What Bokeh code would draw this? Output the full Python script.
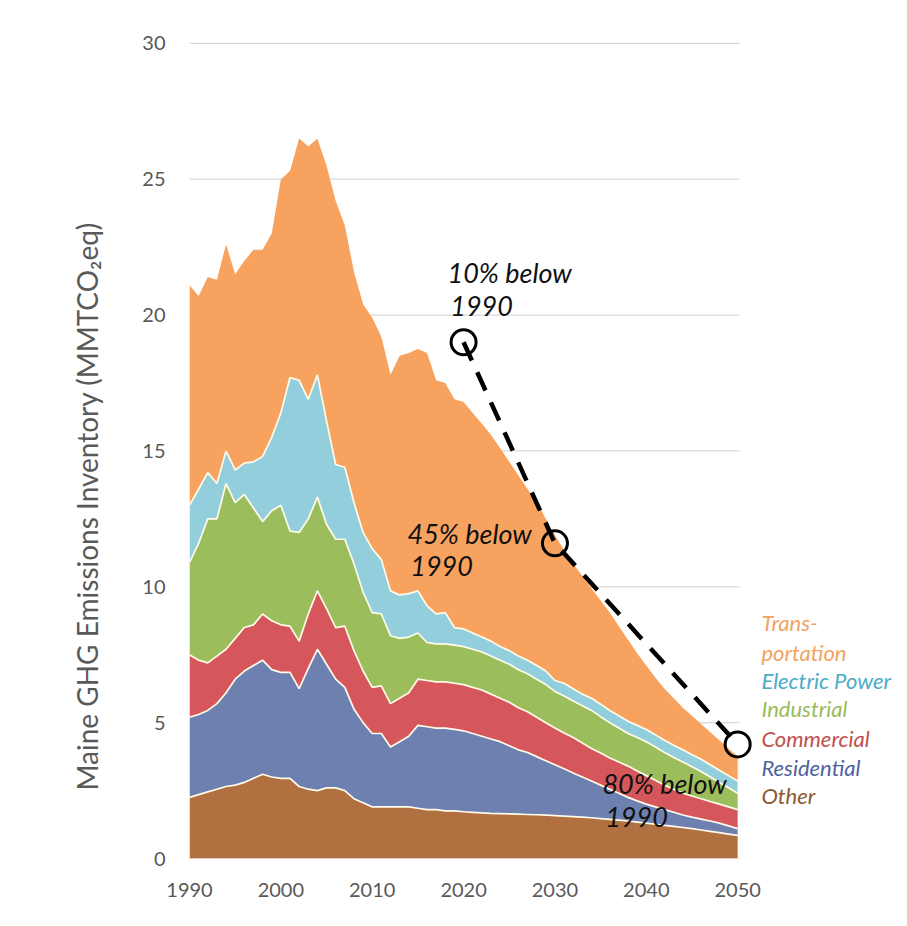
import numpy as np
from bokeh.plotting import figure
from bokeh.models import ColumnDataSource, Label, FixedTicker, Range1d, Title
from bokeh.embed import file_html
from bokeh.resources import INLINE

years = list(range(1990, 2051))

other = [2.25, 2.35, 2.45, 2.55, 2.65, 2.7, 2.8, 2.95, 3.1, 3.0,
         2.95, 2.95, 2.65, 2.55, 2.5, 2.6, 2.6, 2.5, 2.2, 2.05,
         1.9, 1.9, 1.9, 1.9, 1.9, 1.85, 1.8, 1.8, 1.75, 1.75,
         1.72, 1.7, 1.68, 1.66, 1.65, 1.64, 1.63, 1.62, 1.61, 1.6,
         1.58, 1.56, 1.54, 1.52, 1.5, 1.47, 1.44, 1.41, 1.38, 1.34,
         1.3, 1.26, 1.22, 1.18, 1.14, 1.1, 1.05, 1.0, 0.95, 0.9,
         0.85]
residential = [2.95, 2.95, 3.0, 3.15, 3.45, 3.9, 4.1, 4.15, 4.2, 3.95,
               3.9, 3.9, 3.6, 4.45, 5.2, 4.55, 4.0, 3.8, 3.3, 2.95,
               2.7, 2.7, 2.2, 2.4, 2.6, 3.05, 3.05, 3.0, 3.05, 3.0,
               2.98, 2.9, 2.82, 2.74, 2.65, 2.51, 2.37, 2.28, 2.14, 2.0,
               1.87, 1.74, 1.61, 1.48, 1.35, 1.23, 1.11, 0.99, 0.87, 0.78,
               0.7, 0.64, 0.58, 0.52, 0.46, 0.42, 0.4, 0.38, 0.35, 0.3,
               0.25]
commercial = [2.3, 2.0, 1.75, 1.75, 1.6, 1.5, 1.6, 1.5, 1.7, 1.8,
              1.75, 1.7, 1.75, 2.0, 2.15, 2.05, 1.9, 2.25, 2.15, 1.9,
              1.7, 1.75, 1.6, 1.6, 1.6, 1.7, 1.7, 1.7, 1.7, 1.7,
              1.7, 1.7, 1.7, 1.65, 1.6, 1.6, 1.55, 1.5, 1.45, 1.4,
              1.35, 1.32, 1.3, 1.25, 1.2, 1.18, 1.15, 1.15, 1.15, 1.1,
              1.05, 0.98, 0.9, 0.85, 0.8, 0.78, 0.75, 0.72, 0.7, 0.7,
              0.7]
industrial = [3.4, 4.3, 5.3, 5.05, 6.1, 5.0, 4.9, 4.3, 3.4, 4.05,
              4.4, 3.5, 4.0, 3.5, 3.45, 3.1, 3.25, 3.2, 3.2, 2.9,
              2.75, 2.65, 2.5, 2.2, 2.05, 1.7, 1.4, 1.4, 1.4, 1.4,
              1.4, 1.4, 1.4, 1.4, 1.4, 1.4, 1.4, 1.4, 1.4, 1.4,
              1.35, 1.36, 1.35, 1.37, 1.4, 1.34, 1.3, 1.25, 1.2, 1.23,
              1.25, 1.22, 1.2, 1.17, 1.15, 1.08, 1.0, 0.9, 0.8, 0.7,
              0.6]
electric_power = [2.1, 2.0, 1.7, 1.3, 1.2, 1.2, 1.15, 1.7, 2.4, 2.7,
                  3.4, 5.65, 5.6, 4.4, 4.5, 3.8, 2.75, 2.65, 2.25, 2.2,
                  2.35, 2.0, 1.65, 1.6, 1.6, 1.55, 1.35, 1.1, 1.15, 0.65,
                  0.65, 0.6, 0.55, 0.55, 0.5, 0.5, 0.5, 0.5, 0.5, 0.5,
                  0.4, 0.47, 0.45, 0.43, 0.45, 0.46, 0.45, 0.45, 0.45, 0.45,
                  0.45, 0.45, 0.45, 0.45, 0.45, 0.44, 0.45, 0.45, 0.45, 0.45,
                  0.45]
transportation = [8.1, 7.1, 7.2, 7.5, 7.6, 7.2, 7.45, 7.8, 7.6, 7.5,
                  8.6, 7.6, 8.9, 9.3, 8.7, 9.4, 9.7, 8.9, 8.5, 8.4,
                  8.5, 8.2, 7.95, 8.8, 8.85, 8.9, 9.3, 8.6, 8.45, 8.4,
                  8.35, 8.1, 7.85, 7.6, 7.3, 6.95, 6.65, 6.3, 6.0, 5.6,
                  5.35, 4.9, 4.6, 4.35, 4.05, 3.82, 3.6, 3.3, 3.0, 2.65,
                  2.35, 2.1, 1.9, 1.73, 1.55, 1.43, 1.3, 1.2, 1.1, 1.0,
                  0.9]

sector_keys = ["other", "residential", "commercial", "industrial", "electric_power", "transportation"]
sector_colors = ["#B07040", "#6E80B0", "#D5575B", "#9CBD5C", "#93CEDD", "#F7A35F"]

legend_lines = ["Trans-", "portation", "Electric Power", "Industrial", "Commercial", "Residential", "Other"]
legend_colors = ["#F3A361", "#F3A361", "#4BACC6", "#9BBB59", "#C0504D", "#4F62A0", "#8A5A32"]

target_years = [2020, 2030, 2050]
target_values = [19.0, 11.6, 4.2]
target_text = [["10% below", "1990"], ["45% below", "1990"], ["80% below", "1990"]]

y_ticks = [0, 5, 10, 15, 20, 25, 30]
x_ticks = [1990, 2000, 2010, 2020, 2030, 2040, 2050]
y_title = "Maine GHG Emissions Inventory (MMTCO\u2082eq)"

FONT = "Lato"
GRAY = "#595959"

src = ColumnDataSource(dict(year=years, other=other, residential=residential,
                            commercial=commercial, industrial=industrial,
                            electric_power=electric_power, transportation=transportation))

X_END = 1990 + 704 / 9.136
p = figure(x_range=Range1d(1990, X_END), y_range=Range1d(0, 30.4),
           frame_width=704, frame_height=826,
           min_border_left=189, min_border_right=4, min_border_top=32, min_border_bottom=50,
           output_backend="svg", toolbar_location=None)
p.outline_line_color = None
p.background_fill_color = "white"
p.border_fill_color = "white"

p.xgrid.grid_line_color = None
p.ygrid.grid_line_color = None

# horizontal gridlines over the data span only
p.segment(x0=[1990] * len(y_ticks), x1=[2050.2] * len(y_ticks), y0=y_ticks, y1=y_ticks,
          line_color="#D9D9D9", line_width=1.2)

p.varea_stack(stackers=sector_keys, x="year", color=sector_colors, source=src)

cum = np.cumsum(np.array([other, residential, commercial, industrial, electric_power]), axis=0)
for row in cum:
    p.line(years, row, line_color="#FFFBEA", line_width=1.7)

p.line(target_years, target_values, line_color="black", line_width=4.5, line_dash="20 13")
p.scatter(target_years, target_values, marker="circle", size=25, fill_color=None,
          line_color="black", line_width=3)

for ax in (p.xaxis, p.yaxis):
    ax.axis_line_color = None
    ax.major_tick_line_color = None
    ax.minor_tick_line_color = None
    ax.major_label_text_font = FONT
    ax.major_label_text_font_size = "20px"
    ax.major_label_text_color = GRAY
p.xaxis.ticker = FixedTicker(ticks=x_ticks)
p.yaxis.ticker = FixedTicker(ticks=y_ticks)
p.xaxis.major_label_standoff = 18
p.yaxis.major_label_standoff = 18

# annotation texts (positions in data units)
ann_pos = [(2018.24, 21.57, 20.35), (2013.86, 11.96, 10.78), (2035.2, 2.76, 1.51)]
for (xa, y1, y2), (t1, t2) in zip(ann_pos, target_text):
    p.add_layout(Label(x=xa, y=y1, text=t1, text_font=FONT, text_font_style="italic",
                       text_font_size="27px", text_color="#111111", text_baseline="alphabetic"))
    p.add_layout(Label(x=xa + 0.3, y=y2, text=t2, text_font=FONT, text_font_style="italic",
                       text_font_size="27px", text_color="#111111", text_baseline="alphabetic"))

legend_y = [8.69, 7.58, 6.55, 5.52, 4.42, 3.35, 2.32]
for t, c, yy in zip(legend_lines, legend_colors, legend_y):
    p.add_layout(Label(x=2052.6, y=yy, text=t, text_font=FONT, text_font_style="italic",
                       text_font_size="22px", text_color=c, text_baseline="alphabetic"))

p.add_layout(Title(text=y_title, align="left", offset=68, standoff=71,
                   text_font=FONT, text_font_size="28px", text_font_style="normal",
                   text_color=GRAY), "left")

open("out.html", "w").write(file_html(p, INLINE))
